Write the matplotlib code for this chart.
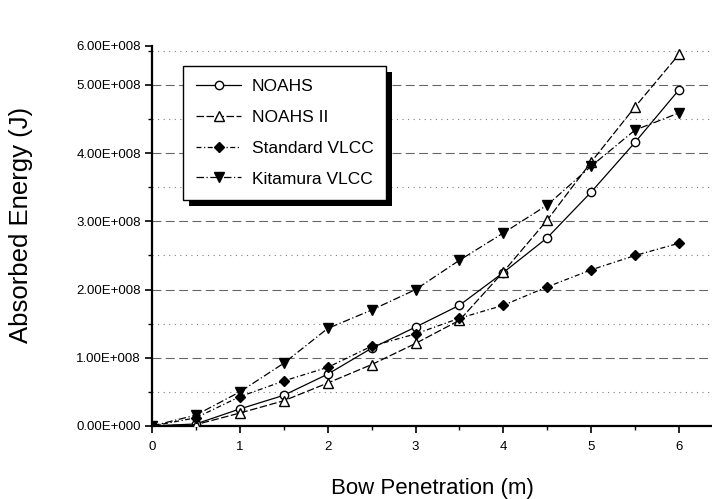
import matplotlib
matplotlib.use("Agg")
import matplotlib.pyplot as plt
from matplotlib.patches import Rectangle
from matplotlib.ticker import MultipleLocator, FixedLocator

plt.rcParams['font.family'] = ['Liberation Sans', 'DejaVu Sans']

penetration = [0, 0.5, 1, 1.5, 2, 2.5, 3, 3.5, 4, 4.5, 5, 5.5, 6]
noahs = [0, 0.03, 0.25, 0.45, 0.76, 1.14, 1.45, 1.77, 2.25, 2.76, 3.43, 4.16, 4.93]
noahs2 = [0, 0.02, 0.19, 0.37, 0.63, 0.90, 1.21, 1.55, 2.26, 3.02, 3.87, 4.68, 5.45]
standard = [0, 0.12, 0.43, 0.66, 0.86, 1.17, 1.35, 1.58, 1.77, 2.04, 2.29, 2.50, 2.68]
kitamura = [0, 0.16, 0.50, 0.92, 1.43, 1.70, 2.00, 2.43, 2.83, 3.24, 3.81, 4.34, 4.59]
series_names = ["NOAHS", "NOAHS II", "Standard VLCC", "Kitamura VLCC"]
ytick_vals = [0, 1e8, 2e8, 3e8, 4e8, 5e8]
ytick_labels = ["0.00E+000", "1.00E+008", "2.00E+008", "3.00E+008", "4.00E+008", "5.00E+008", "6.00E+008"]
xtick_vals = [0, 1, 2, 3, 4, 5, 6]

scale = 1e8
W, H = 712, 499
fig = plt.figure(figsize=(W / 100, H / 100), dpi=100)
ax_left, ax_right, ax_bot, ax_top = 152, 712, 426, 46
ax = fig.add_axes([ax_left / W, (H - ax_bot) / H, (ax_right - ax_left) / W, (ax_bot - ax_top) / H])

xmax = 6 * (ax_right - ax_left) / (679 - ax_left)
ytop = (ax_bot - ax_top) / 68.2 * 1e8
ax.set_xlim(0, xmax)
ax.set_ylim(0, ytop)

styles = [
    dict(ls='-', marker='o', mfc='white', mec='black', ms=6),
    dict(ls=(0, (6, 2)), marker='^', mfc='white', mec='black', ms=7),
    dict(ls=(0, (4, 2, 1, 2)), marker='D', mfc='black', mec='black', ms=5),
    dict(ls=(0, (6, 2, 1, 2)), marker='v', mfc='black', mec='black', ms=6.5),
]
for name, ys, st in zip(series_names, [noahs, noahs2, standard, kitamura], styles):
    ax.plot(penetration, [v * scale for v in ys], color='black', lw=0.9, label=name,
            mew=1.0, **st, zorder=3)

# grid
for v in ytick_vals[1:]:
    ax.axhline(v, color='black', lw=0.8, ls=(0, (8, 4)), alpha=0.6, zorder=1)
for v in [0.5e8, 1.5e8, 2.5e8, 3.5e8, 4.5e8, 5.5e8]:
    ax.axhline(v, color='black', lw=0.8, ls=(0, (1, 4)), alpha=0.5, zorder=1)

# ticks
yt = ytick_vals + [ytop]
ax.yaxis.set_major_locator(FixedLocator(yt))
ax.set_yticklabels(ytick_labels)
ax.yaxis.set_minor_locator(FixedLocator([0.5e8, 1.5e8, 2.5e8, 3.5e8, 4.5e8, 5.5e8]))
ax.xaxis.set_major_locator(FixedLocator(xtick_vals))
ax.set_xticklabels([str(v) for v in xtick_vals])
ax.xaxis.set_minor_locator(MultipleLocator(0.5))
ax.tick_params(axis='both', which='major', direction='out', length=5, width=1.2, labelsize=9.5, colors='black')
ax.tick_params(axis='both', which='minor', direction='out', length=3, width=1.0)
ax.tick_params(axis='x', pad=6)
ax.tick_params(axis='y', pad=3)

for s in ['top', 'right']:
    ax.spines[s].set_visible(False)
for s in ['left', 'bottom']:
    ax.spines[s].set_linewidth(1.6)

ax.set_ylabel("Absorbed Energy (J)", fontsize=18.5)
ax.yaxis.set_label_coords(-(152 - 33) / 560, (426 - 225) / 380)
ax.set_xlabel("Bow Penetration (m)", fontsize=16, labelpad=18)

leg = ax.legend(loc='upper left', bbox_to_anchor=((183 - 152) / 560, (426 - 66) / 380),
                frameon=True, fancybox=False, edgecolor='black', fontsize=12.5,
                labelspacing=0.9, handlelength=2.6, borderpad=0.75, handletextpad=0.6,
                borderaxespad=0, framealpha=1.0, facecolor='white')
leg.get_frame().set_linewidth(1.0)
leg.set_zorder(6)

fig.canvas.draw()
bb = leg.get_window_extent()
off = 6
shadow = Rectangle((bb.x0 + off, bb.y0 - off), bb.width, bb.height, transform=None,
                   facecolor='black', edgecolor='none', zorder=5.5)
ax.add_artist(shadow)

fig.savefig("out.png", dpi=100)
